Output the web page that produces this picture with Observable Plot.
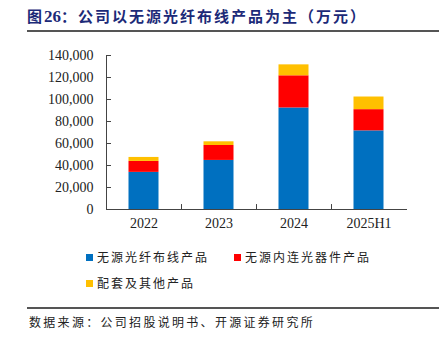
<!DOCTYPE html>
<html>
<head>
<meta charset="utf-8">
<script src="https://cdn.jsdelivr.net/npm/d3@7"></script>
<script src="https://cdn.jsdelivr.net/npm/@observablehq/plot@0.6"></script>
<style>
  html, body { margin: 0; padding: 0; background: #fff; }
  #wrap { position: relative; width: 439px; height: 341px; overflow: hidden; font-family: "Noto Sans CJK SC", sans-serif; }
  #title { position: absolute; left: 27px; top: 5px; font-size: 15px; font-weight: bold; color: #1c2a78; letter-spacing: 2px; white-space: nowrap; }
  #title .num { font-family: "Liberation Serif", serif; font-size: 17px; letter-spacing: 0; }
  .hr { position: absolute; left: 27px; width: 412px; height: 1.5px; background: #555; }
  #chart { position: absolute; left: 0; top: 45px; }
  .leg { position: absolute; font-size: 12px; color: #222; letter-spacing: 2px; white-space: nowrap; line-height: 14px; }
  .leg i { display: inline-block; width: 7px; height: 7px; margin-right: 4px; vertical-align: 1px; }
  #source { position: absolute; left: 29px; top: 313px; font-size: 12px; color: #222; letter-spacing: 2.3px; white-space: nowrap; }
</style>
</head>
<body>
<div id="wrap">
  <div id="title">图<span class="num">26</span>：公司以无源光纤布线产品为主（万元）</div>
  <div class="hr" style="top:30px"></div>
  <div id="chart"></div>
  <div id="legend"></div>
  <div class="hr" style="top:307px"></div>
  <div id="source">数据来源：公司招股说明书、开源证券研究所</div>
</div>
<script>
const categories = ["2022", "2023", "2024", "2025H1"];
const seriesNames = ["无源光纤布线产品", "无源内连光器件产品", "配套及其他产品"];
const fiberCabling = [33760, 44620, 92310, 71490];
const interconnect = [9950, 13570, 29230, 19280];
const others = [3620, 3350, 9950, 11490];
const colors = ["#0070C0", "#FF0000", "#FFC000"];
const yTicks = [0, 20000, 40000, 60000, 80000, 100000, 120000, 140000];

const seriesValues = [fiberCabling, interconnect, others];
const data = [];
seriesNames.forEach((s, si) => {
  categories.forEach((c, ci) => data.push({year: c, series: s, value: seriesValues[si][ci]}));
});

const axisColor = "#444";
const chart = Plot.plot({
  width: 439,
  height: 195,
  marginTop: 10,
  marginBottom: 31,
  marginLeft: 106,
  marginRight: 33,
  style: {fontFamily: "'Liberation Serif', serif", fontSize: "14px", color: "#222", background: "transparent"},
  x: {domain: categories, padding: 0, axis: null, label: null},
  y: {domain: [0, 140000], axis: null, label: null},
  color: {domain: seriesNames, range: colors},
  marks: [
    Plot.barY(data, {x: "year", y: "value", fill: "series", insetLeft: 22.5, insetRight: 22.5}),
    Plot.frame({anchor: "left", stroke: axisColor}),
    Plot.frame({anchor: "bottom", stroke: axisColor}),
    Plot.axisY({ticks: yTicks, tickSize: 0, tickPadding: 13, tickFormat: d3.format(","), fontSize: 14, fill: "#222", label: null}),
    Plot.axisY({ticks: yTicks, tickSize: -5, text: null, stroke: axisColor, label: null}),
    Plot.ruleX(categories.slice(1), {x: d => d, dx: -37.5, y1: 0, y2: 4500, stroke: axisColor}),
    Plot.axisX({tickSize: 0, tickPadding: 9, fontSize: 14, fill: "#222", label: null})
  ]
});
document.getElementById("chart").appendChild(chart);

const legendPos = [[86, 250], [234, 250], [86, 276]];
const legend = document.getElementById("legend");
seriesNames.forEach((s, i) => {
  const d = document.createElement("div");
  d.className = "leg";
  d.style.left = legendPos[i][0] + "px";
  d.style.top = legendPos[i][1] + "px";
  d.innerHTML = `<i style="background:${colors[i]}"></i>${s}`;
  legend.appendChild(d);
});
</script>
</body>
</html>
